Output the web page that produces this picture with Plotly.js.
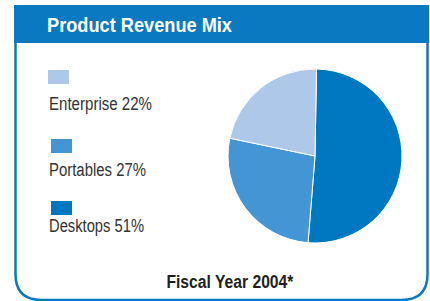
<!DOCTYPE html>
<html>
<head>
<meta charset="utf-8">
<script src="https://cdn.plot.ly/plotly-3.0.1.min.js"></script>
<style>html,body{margin:0;padding:0;background:#fff;}#chart{width:430px;height:301px;}</style>
</head>
<body>
<div id="chart"></div>
<script>
// Data
var categories = ["Desktops", "Portables", "Enterprise"];
var shares = [51, 27, 22];
var sliceColors = ["#0077c1", "#4495d3", "#aec8ea"];
var legendOrder = ["Enterprise", "Portables", "Desktops"];
var chartTitle = "Product Revenue Mix";
var chartFootnote = "Fiscal Year 2004*";

var W = 430, H = 301;
function px(x) { return x / W; }
function py(y) { return 1 - y / H; }

var BLUE = "#0a79c1";
var FONT = "'Liberation Sans Narrow', 'Arial Narrow', 'Liberation Sans', sans-serif";

var cx = 315, cy = 156, r = 87;

var trace = {
  type: "pie",
  labels: categories,
  values: shares,
  marker: { colors: sliceColors, line: { color: "#ffffff", width: 1 } },
  sort: false,
  direction: "clockwise",
  rotation: 1,
  textinfo: "none",
  hoverinfo: "label+percent",
  showlegend: false,
  domain: { x: [px(cx - r), px(cx + r)], y: [py(cy + r), py(cy - r)] }
};

// Frame with rounded bottom corners
var L = 15.5, R = 427.5, T = 5, B = 300, rad = 26;
var framePath = "M " + px(L) + "," + py(T) +
  " L " + px(L) + "," + py(B - rad) +
  " Q " + px(L) + "," + py(B) + " " + px(L + rad) + "," + py(B) +
  " L " + px(R - rad) + "," + py(B) +
  " Q " + px(R) + "," + py(B) + " " + px(R) + "," + py(B - rad) +
  " L " + px(R) + "," + py(T);

var shapes = [
  { type: "path", xref: "paper", yref: "paper", path: framePath,
    line: { color: BLUE, width: 2.5 }, fillcolor: "rgba(0,0,0,0)", layer: "below" },
  { type: "rect", xref: "paper", yref: "paper",
    x0: px(14), x1: px(429), y0: py(43), y1: py(5),
    fillcolor: BLUE, line: { width: 0 }, layer: "below" }
];

// target widths (px) used to condense the text like the narrow reference face
var fitWidths = [];
var annotations = [
  { xref: "paper", yref: "paper", x: px(45), y: py(25), xanchor: "left", yanchor: "middle", align: "left",
    text: "<b>" + chartTitle + "</b>", showarrow: false,
    font: { family: FONT, size: 21, color: "#ffffff" } },
  { xref: "paper", yref: "paper", x: px(229.5), y: py(281.5), xanchor: "center", yanchor: "middle",
    text: "<b>" + chartFootnote + "</b>", showarrow: false,
    font: { family: FONT, size: 18, color: "#231f20" } }
];
fitWidths.push(185, 127);

// Legend entries: swatch above label
var swatchTops = [70, 139, 201];
var swatchLefts = [48, 51, 51];
var textCenters = [104, 170, 226];
var textWidths = [103, 97, 95];
legendOrder.forEach(function (name, i) {
  var k = categories.indexOf(name);
  shapes.push({ type: "rect", xref: "paper", yref: "paper",
    x0: px(swatchLefts[i]), x1: px(swatchLefts[i] + 21),
    y0: py(swatchTops[i] + 14), y1: py(swatchTops[i]),
    fillcolor: sliceColors[k], line: { width: 0 } });
  annotations.push({ xref: "paper", yref: "paper", x: px(47), y: py(textCenters[i]),
    xanchor: "left", yanchor: "middle", align: "left", showarrow: false,
    text: name + " " + shares[k] + "%",
    font: { family: FONT, size: 18, color: "#333333" } });
  fitWidths.push(textWidths[i]);
});

var layout = {
  width: W, height: H,
  margin: { l: 0, r: 0, t: 0, b: 0 },
  paper_bgcolor: "#ffffff",
  showlegend: false,
  shapes: shapes,
  annotations: annotations
};

Plotly.newPlot("chart", [trace], layout, { displayModeBar: false, staticPlot: true }).then(function () {
  var gd = document.getElementById("chart");
  fitWidths.forEach(function (w, i) {
    var t = gd.querySelector('.annotation[data-index="' + i + '"] .annotation-text');
    if (t) {
      t.setAttribute("textLength", w);
      t.setAttribute("lengthAdjust", "spacingAndGlyphs");
    }
  });
});
</script>
</body>
</html>
